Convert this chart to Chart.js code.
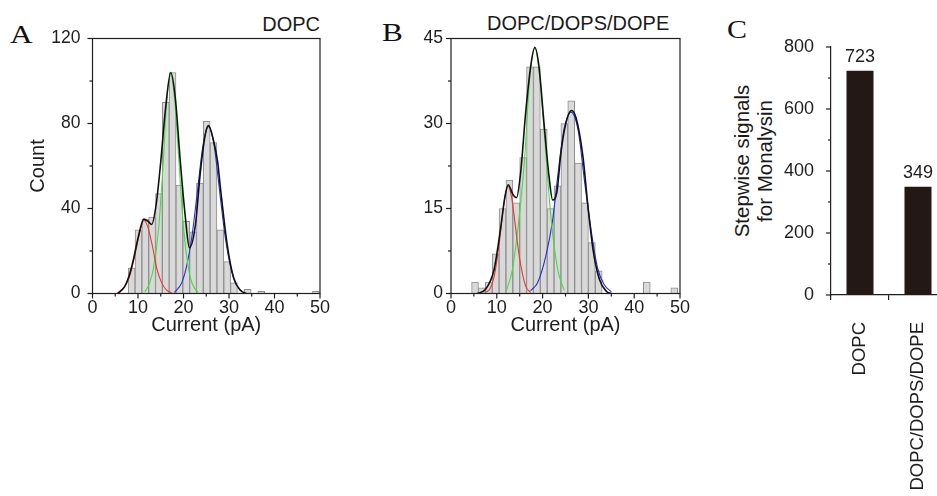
<!DOCTYPE html>
<html>
<head>
<meta charset="utf-8">
<script src="https://cdn.jsdelivr.net/npm/chart.js@4.4.1/dist/chart.umd.min.js"></script>
<style>
  html, body { margin: 0; padding: 0; background: #fff; }
  body { position: relative; width: 937px; height: 496px; overflow: hidden; }
  canvas { position: absolute; top: 0; }
  .panel { position: absolute; font-family: 'Liberation Serif', 'Times New Roman', serif; font-size: 25px; line-height: 1; color: #111; transform: scaleX(1.25); transform-origin: left top; }
  .head { position: absolute; font-family: 'Liberation Sans', Arial, sans-serif; font-size: 20px; line-height: 1; color: #1a1a1a; white-space: nowrap; }
  #ytitle-c { left: 753px; top: 161px; width: 220px; line-height: 23px; font-size: 20.5px; text-align: center; transform: translate(-50%, -50%) rotate(-90deg); }
</style>
</head>
<body>
<div class="panel" style="left:10px;top:22px">A</div>
<div class="panel" style="left:382px;top:20px">B</div>
<div class="panel" style="left:727px;top:17px;font-size:26px;transform:scaleX(1.15)">C</div>
<div class="head" style="right:617px;top:14px">DOPC</div>
<div class="head" style="left:487px;top:13px">DOPC/DOPS/DOPE</div>
<div class="head" id="ytitle-c">Stepwise signals<br>for Monalysin</div>

<canvas id="chart-a" width="340" height="345" style="left:0px"></canvas>
<canvas id="chart-b" width="345" height="345" style="left:360px"></canvas>
<canvas id="chart-c" width="280" height="496" style="left:700px"></canvas>

<script>
// ---- panel A: DOPC current histogram (bin centres in pA, counts) ----
const aBinX   = [8.6, 10.1, 11.6, 13.1, 14.6, 16.1, 17.6, 19.1, 20.6, 22.1, 23.6, 25.1, 26.6, 28.1, 29.6, 31.1, 34.1, 37.1, 49.1];
const aCounts = [12, 30, 35, 36, 47, 90, 104, 51, 34, 29, 52, 81, 71, 30, 15, 5, 2, 1, 1];

// fitted curves (x in pA, y in counts)
const aSumX  = [5.5, 7, 8, 9, 10, 11.3, 12.2, 13, 14, 15, 16, 17.2, 18.2, 19.3, 20.4, 21.3, 22.6, 23.7, 24.8, 25.5, 26.6, 27.5, 28.1, 29.6, 31, 32.5, 33.8];
const aSumY  = [0, 3, 8, 16, 26, 35, 34, 32.5, 42, 62, 86, 104, 92, 62, 36, 21.5, 32, 57, 75, 79, 72, 62, 50, 23, 7.5, 1.5, 0];
const aRedX  = [6, 7.3, 8.3, 9.5, 10.4, 11.3, 12.2, 13.2, 14.1, 15.2, 16.3, 17.4];
const aRedY  = [1, 4, 9, 20, 29, 34.5, 31, 22, 12, 5, 1.6, 0.3];
const aGrnX  = [11.5, 12.5, 13.4, 14.5, 15.5, 16.3, 17.2, 18.1, 19, 20, 21, 21.7, 22.5, 23.2];
const aGrnY  = [0.8, 4.5, 12, 30, 60, 90, 103, 90, 62, 31, 13, 6, 2.2, 0.6];
const aBluX  = [18, 19.6, 20.7, 21.8, 23, 24.3, 25.5, 26.7, 28, 29.2, 30.3, 31.4, 32.8];
const aBluY  = [0.5, 5, 13, 26, 47, 70, 78.5, 70, 47, 26, 13, 5, 1];

// ---- panel B: DOPC/DOPS/DOPE current histogram ----
const bBinX   = [5.25, 6.75, 8.25, 9.75, 11.25, 12.75, 14.25, 15.75, 17.25, 18.75, 20.25, 21.75, 23.25, 24.75, 26.25, 27.75, 29.25, 30.75, 32.25, 42.75, 48.75];
const bCounts = [2, 1, 2, 7, 15, 20, 16, 24, 40, 40, 29, 15, 19, 30, 34, 23, 16, 9, 4, 2, 1];

const bSumX  = [5.7, 7.5, 9.4, 10.8, 11.8, 12.5, 13.5, 14.3, 15.2, 16.3, 17.4, 18.3, 19.2, 20.3, 21.4, 22.2, 23.1, 24, 25.1, 26.3, 27.3, 28.8, 29.9, 31, 32.4, 33.9, 35];
const bSumY  = [0, 0.7, 4.2, 11.3, 17.2, 19.2, 17.5, 16.9, 21.3, 31.9, 40.1, 43.4, 40.1, 30.1, 20.7, 16.5, 17.8, 24.8, 30.1, 32.3, 31, 24.2, 15.4, 7.8, 2.5, 0.4, 0];
const bRedX  = [7.5, 8.5, 9.5, 10.5, 11.3, 11.9, 12.5, 13.2, 13.8, 14.9, 16.3, 17.4];
const bRedY  = [0.2, 0.8, 3.3, 8.7, 14.3, 17.6, 18.9, 17.1, 13.6, 6.6, 1.3, 0.2];
const bGrnX  = [12.1, 13.4, 14.9, 16, 17.2, 18.3, 19.4, 20.3, 21.8, 23.3, 24.7];
const bGrnY  = [0.5, 4.2, 13.6, 23, 38, 43.5, 38, 29, 13.6, 4.2, 0.6];
const bBluX  = [17.4, 18.9, 20.7, 22.2, 23.3, 24.6, 26.2, 27.8, 29.2, 30.5, 32, 33.5, 35];
const bBluY  = [0.5, 1.9, 6.6, 13, 20.7, 28.6, 32, 28.6, 19.5, 11.7, 4.5, 1.5, 0.3];

// ---- panel C: stepwise signal totals ----
const lipids       = ['DOPC', 'DOPC/DOPS/DOPE'];
const signalCounts = [723, 349];

const ink = '#1e1e1e';
Chart.defaults.font.family = "'Liberation Sans', Arial, sans-serif";
Chart.defaults.color = ink;
Chart.defaults.animation = false;

// box around the plot + major/minor tick marks (outward)
const frameTicks = {
  id: 'frameTicks',
  afterDraw(chart, args, opts) {
    const { ctx, chartArea: a, scales } = chart;
    ctx.save();
    ctx.strokeStyle = ink;
    ctx.lineWidth = 1.2;
    if (opts.box) ctx.strokeRect(a.left, a.top, a.right - a.left, a.bottom - a.top);
    ['x', 'y'].forEach(id => {
      const o = opts[id];
      if (!o) return;
      const s = scales[id];
      s.ticks.forEach(t => {
        const r = t.value / o.major;
        const len = Math.abs(r - Math.round(r)) < 1e-6 ? o.majorLen : o.minorLen;
        const p = s.getPixelForValue(t.value);
        ctx.beginPath();
        if (id === 'x') { ctx.moveTo(p, a.bottom); ctx.lineTo(p, a.bottom + len); }
        else { ctx.moveTo(a.left, p); ctx.lineTo(a.left - len, p); }
        ctx.stroke();
      });
    });
    ctx.restore();
  }
};

const pts = (xs, ys) => xs.map((x, i) => ({ x: x, y: ys[i] }));

function fitLine(xs, ys, color, width, order) {
  return {
    type: 'line', data: pts(xs, ys), borderColor: color, borderWidth: width,
    pointRadius: 0, cubicInterpolationMode: 'monotone', fill: false, order: order
  };
}

function histogram(canvasId, cfg) {
  return new Chart(document.getElementById(canvasId), {
    type: 'bar',
    data: {
      datasets: [
        { type: 'bar', data: pts(cfg.binX, cfg.counts), backgroundColor: '#d9d9d9', borderColor: '#8e8e8e',
          borderWidth: 1, barPercentage: 1, categoryPercentage: 1, order: 10 },
        fitLine(cfg.red[0], cfg.red[1], '#e83a30', 1.1, 3),
        fitLine(cfg.grn[0], cfg.grn[1], '#3ee03a', 1.1, 3),
        fitLine(cfg.blu[0], cfg.blu[1], '#2c2cd6', 1.1, 3),
        fitLine(cfg.sum[0], cfg.sum[1], '#111111', 1.6, 1)
      ]
    },
    options: {
      responsive: false,
      events: [],
      layout: { padding: cfg.padding },
      plugins: {
        legend: { display: false },
        tooltip: { enabled: false },
        frameTicks: {
          box: true,
          x: { major: 10, majorLen: 5, minorLen: 3 },
          y: { major: cfg.yMajor, majorLen: 5, minorLen: 3 }
        }
      },
      scales: {
        x: {
          type: 'linear', min: 0, max: 50, offset: false,
          grid: { display: false, drawTicks: false, offset: false }, border: { display: false },
          ticks: { stepSize: 5, autoSkip: false, maxRotation: 0, padding: 4, font: { size: 18 }, color: ink,
                   callback: v => (v % 10 === 0 ? v : '') },
          title: { display: true, text: 'Current (pA)', font: { size: 20 }, color: ink, padding: { top: 0, bottom: 7.5 } },
          afterFit: s => { s.height = cfg.xHeight; }
        },
        y: {
          min: 0, max: cfg.yMax,
          grid: { display: false, drawTicks: false }, border: { display: false },
          ticks: { stepSize: cfg.yMajor / 2, autoSkip: false, padding: cfg.yPad, font: { size: 17.5 }, color: ink,
                   callback: v => { const r = v / cfg.yMajor; return Math.abs(r - Math.round(r)) < 1e-6 ? v : ''; } },
          title: { display: !!cfg.yTitle, text: cfg.yTitle || '', font: { size: 20 }, color: ink, padding: { top: 26.5, bottom: 0 } },
          afterFit: s => { s.width = cfg.yWidth; }
        }
      }
    },
    plugins: [frameTicks]
  });
}

histogram('chart-a', {
  binX: aBinX, counts: aCounts,
  sum: [aSumX, aSumY], red: [aRedX, aRedY], grn: [aGrnX, aGrnY], blu: [aBluX, aBluY],
  yMax: 120, yMajor: 40, yTitle: 'Count', yPad: 12,
  padding: { left: 0, top: 38.5, right: 20, bottom: 0 }, yWidth: 92.5, xHeight: 51.5
});

histogram('chart-b', {
  binX: bBinX, counts: bCounts,
  sum: [bSumX, bSumY], red: [bRedX, bRedY], grn: [bGrnX, bGrnY], blu: [bBluX, bBluY],
  yMax: 45, yMajor: 15, yTitle: null, yPad: 8,
  padding: { left: 0, top: 38.5, right: 25, bottom: 0 }, yWidth: 91, xHeight: 51.5
});

// value labels above the bars in panel C
const barValues = {
  id: 'barValues',
  afterDatasetsDraw(chart) {
    const { ctx } = chart;
    const meta = chart.getDatasetMeta(0);
    ctx.save();
    ctx.font = "18px 'Liberation Sans', Arial, sans-serif";
    ctx.fillStyle = ink;
    ctx.textAlign = 'center';
    ctx.textBaseline = 'middle';
    meta.data.forEach((bar, i) => ctx.fillText(String(signalCounts[i]), bar.x, bar.y - 14));
    ctx.restore();
  }
};

new Chart(document.getElementById('chart-c'), {
  type: 'bar',
  data: {
    labels: lipids,
    datasets: [{ data: signalCounts, backgroundColor: '#231815', borderWidth: 0, barPercentage: 0.466, categoryPercentage: 1 }]
  },
  options: {
    responsive: false,
    events: [],
    layout: { padding: { left: 0, top: 47, right: 33, bottom: 0 } },
    plugins: {
      legend: { display: false },
      tooltip: { enabled: false },
      frameTicks: { box: false, y: { major: 200, majorLen: 5, minorLen: 3 } }
    },
    scales: {
      x: {
        grid: { display: true, drawOnChartArea: false, drawTicks: true, tickLength: 5, color: ink, lineWidth: 1.2, offset: true },
        border: { display: true, color: ink, width: 1.2 },
        ticks: { minRotation: 90, maxRotation: 90, autoSkip: false, padding: 22, font: { size: 18.5 }, color: ink },
        afterFit: s => { s.height = 201; }
      },
      y: {
        min: 0, max: 800,
        grid: { display: false, drawTicks: false },
        border: { display: true, color: ink, width: 1.2 },
        ticks: { stepSize: 100, autoSkip: false, padding: 17, font: { size: 18 }, color: ink,
                 callback: v => (v % 200 === 0 ? v : '') },
        afterFit: s => { s.width = 131; }
      }
    }
  },
  plugins: [frameTicks, barValues]
});
</script>
</body>
</html>
